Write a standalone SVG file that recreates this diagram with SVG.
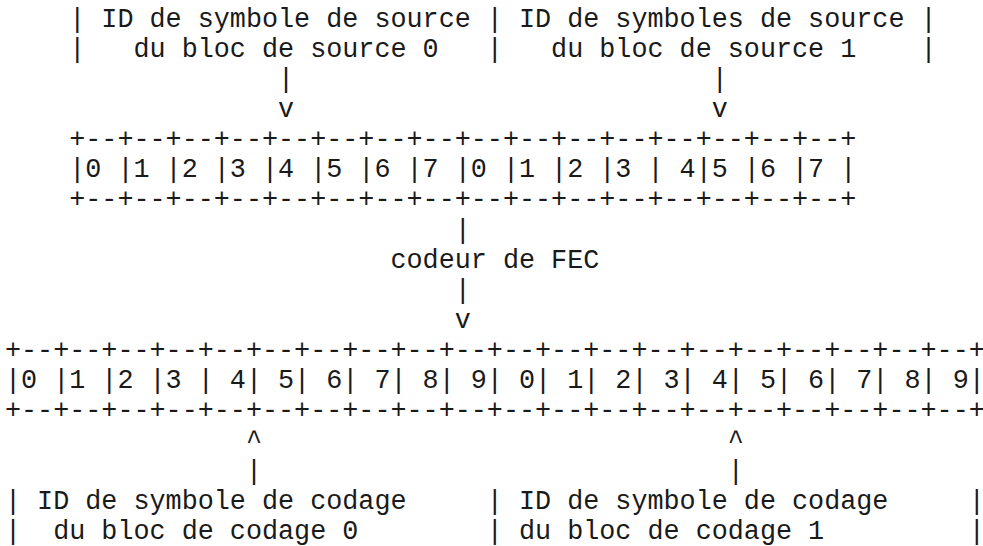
<svg xmlns="http://www.w3.org/2000/svg" width="983" height="546" viewBox="0 0 983 546" xml:space="preserve">
  <style>
    text { font-family: "Liberation Mono", "Courier New", monospace; font-size: 26.77px; fill: #1a1a1a; white-space: pre; }
  </style>
  <rect x="0" y="0" width="983" height="546" fill="#ffffff"/>

  <!-- source block labels -->
  <g id="source-blocks">
    <text x="5" y="26.5">    | ID de symbole de source | ID de symboles de source |</text>
    <text x="5" y="56.65">    |   du bloc de source 0   |   du bloc de source 1    |</text>
  </g>

  <!-- source symbol row -->
  <g id="source-symbols">
    <text x="5" y="147.1">    +--+--+--+--+--+--+--+--+--+--+--+--+--+--+--+--+</text>
    <text x="5" y="177.25">    |0 |1 |2 |3 |4 |5 |6 |7 |0 |1 |2 |3 | 4|5 |6 |7 |</text>
    <text x="5" y="207.4">    +--+--+--+--+--+--+--+--+--+--+--+--+--+--+--+--+</text>
  </g>

  <!-- encoder -->
  <g id="fec-encoder">
    <text x="5" y="267.7">                        codeur de FEC</text>
  </g>

  <!-- encoding symbol row -->
  <g id="encoding-symbols">
    <text x="5" y="358.15">+--+--+--+--+--+--+--+--+--+--+--+--+--+--+--+--+--+--+--+--+</text>
    <text x="5" y="388.3">|0 |1 |2 |3 | 4| 5| 6| 7| 8| 9| 0| 1| 2| 3| 4| 5| 6| 7| 8| 9|</text>
    <text x="5" y="418.45">+--+--+--+--+--+--+--+--+--+--+--+--+--+--+--+--+--+--+--+--+</text>
  </g>

  <!-- encoding block labels -->
  <g id="encoding-blocks">
    <text x="5" y="508.9">| ID de symbole de codage     | ID de symbole de codage     |</text>
    <text x="5" y="538.5">|  du bloc de codage 0        | du bloc de codage 1         |</text>
  </g>

  <!-- connectors -->
  <g id="connectors">
    <text x="5" y="86.8">                 |                          |</text>
    <text x="5" y="116.95">                 v                          v</text>
    <text x="5" y="237.55">                            |</text>
    <text x="5" y="297.85">                            |</text>
    <text x="5" y="328.0">                            v</text>
    <text x="5" y="448.6">               ^                             ^</text>
    <text x="5" y="478.75">               |                             |</text>
  </g>
</svg>
